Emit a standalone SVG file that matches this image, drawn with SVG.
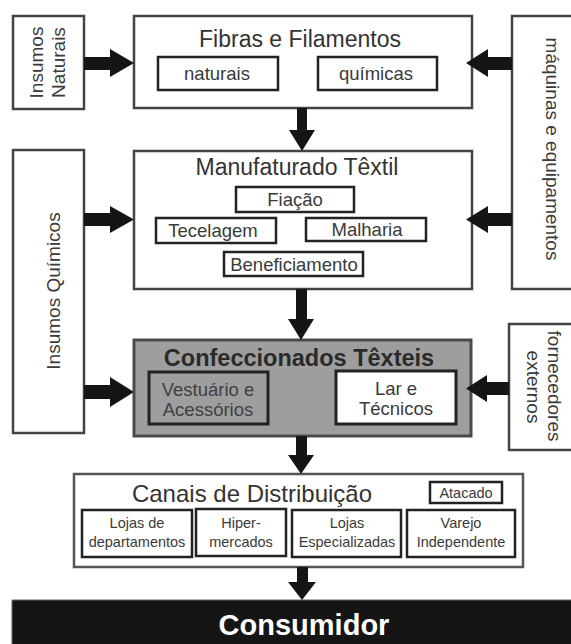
<svg xmlns="http://www.w3.org/2000/svg" width="571" height="644" viewBox="0 0 571 644">
<style>
text{font-family:"Liberation Sans",Arial,sans-serif;fill:#333;text-anchor:middle}
.outer{fill:#fff;stroke:#444;stroke-width:2.5}
.inner{fill:#fff;stroke:#222;stroke-width:2.5}
.title{font-size:23px}
.lbl{font-size:18.5px;fill:#3a3a3a}
.side{font-size:19px;fill:#3a3a3a}
.sm{font-size:14.5px;fill:#3a3a3a}
.arr{fill:#151515}
</style>
<rect width="571" height="644" fill="#fff"/>
<g id="insumos-naturais">
<rect class="outer" x="13" y="16" width="71" height="93"/>
<text class="side" transform="translate(43,62.5) rotate(-90)">Insumos</text>
<text class="side" transform="translate(65,62.5) rotate(-90)">Naturais</text>
</g>
<g id="fibras">
<rect class="outer" x="134" y="16" width="338" height="92"/>
<text class="title" x="300" y="47">Fibras e Filamentos</text>
<rect class="inner" x="158" y="57" width="120" height="33"/>
<text class="lbl" x="217" y="80">naturais</text>
<rect class="inner" x="318" y="57" width="119" height="33"/>
<text class="lbl" x="376" y="80">químicas</text>
</g>
<g id="maquinas">
<rect class="outer" x="512" y="16" width="70" height="273"/>
<text class="side" transform="translate(546,149) rotate(90)">máquinas e equipamentos</text>
</g>
<g id="insumos-quimicos">
<rect class="outer" x="13" y="150" width="71" height="283"/>
<text class="side" transform="translate(60,291) rotate(-90)">Insumos Químicos</text>
</g>
<g id="manufaturado">
<rect class="outer" x="134" y="151" width="338" height="138"/>
<text class="title" x="297" y="175">Manufaturado Têxtil</text>
<rect class="inner" x="236" y="187" width="118" height="25"/>
<text class="lbl" x="295" y="206">Fiação</text>
<rect class="inner" x="156" y="218" width="120" height="25"/>
<text class="lbl" x="213" y="237">Tecelagem</text>
<rect class="inner" x="306" y="218" width="120" height="23"/>
<text class="lbl" x="367" y="236">Malharia</text>
<rect class="inner" x="224" y="252" width="139" height="24"/>
<text class="lbl" x="294" y="271">Beneficiamento</text>
</g>
<g id="confeccionados">
<rect x="134" y="340" width="337" height="96" fill="#9e9e9e" stroke="#4a4a4a" stroke-width="3"/>
<text x="299" y="366" style="font-size:23.5px;font-weight:bold;fill:#2a2a2a">Confeccionados Têxteis</text>
<rect x="149" y="372" width="119" height="52" fill="#9e9e9e" stroke="#222" stroke-width="3"/>
<text class="lbl" x="208" y="396" style="fill:#404040">Vestuário e</text>
<text class="lbl" x="208" y="416" style="fill:#404040">Acessórios</text>
<rect x="336" y="371" width="120" height="53" fill="#fff" stroke="#222" stroke-width="3"/>
<text class="lbl" x="396" y="395">Lar e</text>
<text class="lbl" x="396" y="415">Técnicos</text>
</g>
<g id="fornecedores">
<rect class="outer" x="509" y="324" width="70" height="126"/>
<text class="side" transform="translate(548,386) rotate(90)">fornecedores</text>
<text class="side" transform="translate(527,387) rotate(90)">externos</text>
</g>
<g id="canais">
<rect class="outer" x="74" y="474" width="449" height="93" style="stroke:#555"/>
<text x="252" y="502" style="font-size:24px">Canais de Distribuição</text>
<rect class="inner" x="430" y="482" width="72" height="21"/>
<text class="sm" x="466" y="498">Atacado</text>
<rect class="inner" x="82" y="510" width="110" height="47"/>
<text class="sm" x="137" y="528">Lojas de</text>
<text class="sm" x="137" y="547">departamentos</text>
<rect class="inner" x="196" y="509" width="90" height="47"/>
<text class="sm" x="241" y="528">Hiper-</text>
<text class="sm" x="241" y="547">mercados</text>
<rect class="inner" x="292" y="510" width="109" height="47"/>
<text class="sm" x="347" y="528">Lojas</text>
<text class="sm" x="347" y="547">Especializadas</text>
<rect class="inner" x="407" y="510" width="108" height="47"/>
<text class="sm" x="461" y="528">Varejo</text>
<text class="sm" x="461" y="547">Independente</text>
</g>
<g id="consumidor">
<rect x="12" y="600" width="570" height="50" fill="#151515" stroke="#666" stroke-width="1"/>
<text x="304" y="635" style="font-size:29px;font-weight:bold;fill:#fff">Consumidor</text>
</g>
<g id="connectors" class="arr">
<polygon points="84,57 110,57 110,49 134,63 110,77 110,70 84,70"/>
<polygon points="84,213 110,213 110,206 134,219.5 110,233 110,226 84,226"/>
<polygon points="84,385 110,385 110,377 134,392 110,407 110,399 84,399"/>
<polygon points="512,57 488,57 488,49 466,63 488,77 488,70 512,70"/>
<polygon points="512,213 488,213 488,206 466,219.5 488,233 488,226 512,226"/>
<polygon points="509,382 487,382 487,375 466,388.5 487,402 487,395 509,395"/>
<polygon points="297,108 307,108 307,130 315,130 302,151 289,130 297,130"/>
<polygon points="296,289 307,289 307,319 314,319 301,340 288,319 296,319"/>
<polygon points="296,436 307,436 307,455 314,455 301,474 288,455 296,455"/>
<polygon points="297,567 308,567 308,582 316,582 302,600 288,582 297,582"/>
</g>
</svg>
